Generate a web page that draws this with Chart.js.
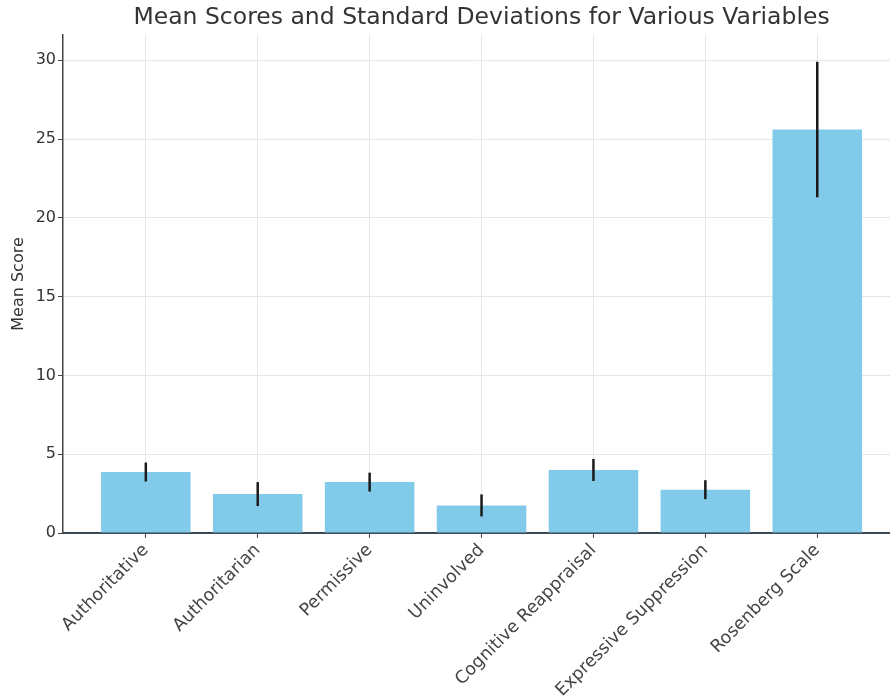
<!DOCTYPE html>
<html>
<head>
<meta charset="utf-8">
<script src="https://cdn.jsdelivr.net/npm/chart.js@4.4.1/dist/chart.umd.min.js"></script>
<style>
  html, body { margin: 0; padding: 0; background: #fff; }
  canvas { display: block; }
</style>
</head>
<body>
<canvas id="myChart" width="890" height="698"></canvas>
<script>
const categories = ['Authoritative', 'Authoritarian', 'Permissive', 'Uninvolved',
    'Cognitive Reappraisal', 'Expressive Suppression', 'Rosenberg Scale']
const means = [3.87, 2.47, 3.23, 1.75, 4.0, 2.75, 25.6]
const sds = [0.6, 0.76, 0.6, 0.7, 0.7, 0.6, 4.3]
const yTicks = [0, 5, 10, 15, 20, 25, 30]
const titleText = 'Mean Scores and Standard Deviations for Various Variables'

const font = 'DejaVu Sans'
const textColor = '#333'

// error bars drawn from means/sds through the scales
const errorBars = {
    id: 'errorBars',
    afterDatasetsDraw(chart) {
        const ctx = chart.ctx
        const x = chart.scales.x
        const y = chart.scales.y
        ctx.save()
        ctx.strokeStyle = '#1a1a1a'
        ctx.lineWidth = 2.5
        for (let i = 0; i < means.length; i++) {
            const px = x.getPixelForValue(i)
            ctx.beginPath()
            ctx.moveTo(px, y.getPixelForValue(means[i] - sds[i]))
            ctx.lineTo(px, y.getPixelForValue(means[i] + sds[i]))
            ctx.stroke()
        }
        ctx.restore()
    }
}

// title centred over the (uncropped) axes like the original
const topTitle = {
    id: 'topTitle',
    afterDraw(chart) {
        const ctx = chart.ctx
        ctx.save()
        ctx.font = '23.5px "' + font + '"'
        ctx.fillStyle = textColor
        ctx.textAlign = 'center'
        ctx.textBaseline = 'middle'
        ctx.fillText(titleText, chart.scales.x.getPixelForValue(3), 18)
        ctx.restore()
    }
}

const ctx = document.getElementById('myChart').getContext('2d')
const myChart = new Chart(ctx, {
    type: 'bar',
    data: {
        datasets: [{
            label: 'Mean Score',
            data: means.map((m, i) => ({ x: i, y: m })),
            backgroundColor: 'rgb(130, 202, 234)',
            borderWidth: 0,
            barPercentage: 0.8,
            categoryPercentage: 1.0
        }]
    },
    plugins: [errorBars, topTitle],
    options: {
        responsive: false,
        animation: false,
        layout: { padding: { top: 35, left: 0, right: 0, bottom: 0 } },
        plugins: {
            legend: { display: false },
            tooltip: { enabled: false }
        },
        scales: {
            x: {
                type: 'linear',
                offset: false,
                min: -0.74,
                max: 6.65,
                afterFit: (scale) => { scale.height = 165 },
                afterBuildTicks: (scale) => {
                    scale.ticks = categories.map((c, i) => ({ value: i }))
                },
                grid: {
                    offset: false,
                    color: '#e6e6e6',
                    lineWidth: 1,
                    tickColor: '#444',
                    tickLength: 5
                },
                border: { color: '#3b4a55', width: 2 },
                ticks: {
                    autoSkip: false,
                    maxRotation: 45,
                    minRotation: 45,
                    padding: 2,
                    color: '#444',
                    font: { family: font, size: 17.5 },
                    callback: (v) => categories[v]
                }
            },
            y: {
                min: 0,
                max: 31.6,
                afterFit: (scale) => { scale.width = 63 },
                afterBuildTicks: (scale) => {
                    scale.ticks = yTicks.map(v => ({ value: v }))
                },
                grid: {
                    color: '#e6e6e6',
                    lineWidth: 1,
                    tickColor: '#444',
                    tickLength: 5
                },
                border: { color: '#444', width: 1.5 },
                ticks: {
                    padding: 2,
                    color: textColor,
                    font: { family: font, size: 16 }
                },
                title: {
                    display: true,
                    text: 'Mean Score',
                    color: textColor,
                    font: { family: font, size: 16 },
                    padding: { top: 9, bottom: 0 }
                }
            }
        }
    }
})
</script>
</body>
</html>
